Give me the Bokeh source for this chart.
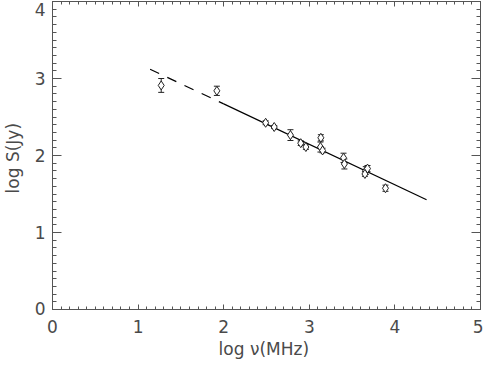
from bokeh.plotting import figure
from bokeh.models import (ColumnDataSource, Whisker, TeeHead, LinearAxis,
                          SingleIntervalTicker, Range1d)
from bokeh.embed import file_html
from bokeh.resources import INLINE

# ---- data ----
log_freq = [1.27, 1.92, 2.49, 2.59, 2.78, 2.90, 2.96, 3.135, 3.13, 3.155,
            3.40, 3.41, 3.66, 3.65, 3.68, 3.89]
log_flux = [2.91, 2.84, 2.425, 2.37, 2.265, 2.16, 2.11, 2.23, 2.11, 2.065,
            1.97, 1.89, 1.805, 1.76, 1.83, 1.575]
log_err = [0.09, 0.06, 0.025, 0.02, 0.07, 0.03, 0.03, 0.04, 0.065, 0.03,
           0.06, 0.065, 0.05, 0.03, 0.04, 0.04]

fit_dash_x = [1.14, 2.0]
fit_dash_y = [3.12, 2.67]
fit_solid_x = [2.0, 4.37]
fit_solid_y = [2.67, 1.425]

x_range = (0, 5)
y_range = (0, 4)
# edge labels nudged inward (blank lines), as the reference keeps them inside
y_label_overrides = {4: "\n4", 0: "0\n\n"}

FONT = "DejaVu Sans"
AX_COL = "#555555"
TXT_COL = "#4a4a4a"
FS = "17px"

src = ColumnDataSource(dict(
    x=log_freq, y=log_flux,
    upper=[f + e for f, e in zip(log_flux, log_err)],
    lower=[f - e for f, e in zip(log_flux, log_err)],
))

p = figure(width=484, height=368, output_backend="svg", toolbar_location=None,
           x_range=Range1d(*x_range), y_range=Range1d(*y_range),
           x_axis_location=None, y_axis_location=None,
           min_border_left=53, min_border_right=3, min_border_top=2,
           min_border_bottom=58)
p.margin = (-1, 0, 0, -1)
p.grid.visible = False
p.outline_line_color = None
p.background_fill_color = "white"


def make_axis(side, labeled):
    ax = LinearAxis(ticker=SingleIntervalTicker(interval=1, num_minor_ticks=10))
    horiz = side in ("below", "above")
    ax.axis_line_color = AX_COL
    ax.major_tick_line_color = AX_COL
    ax.minor_tick_line_color = AX_COL
    ax.major_tick_out = 0
    ax.minor_tick_out = 0
    ax.major_tick_in = 5 if horiz else 9
    ax.minor_tick_in = 3 if horiz else 4
    if labeled:
        ax.major_label_text_font = FONT
        ax.major_label_text_font_size = FS
        ax.major_label_text_color = TXT_COL
        ax.axis_label_text_font = FONT
        ax.axis_label_text_font_size = FS
        ax.axis_label_text_color = TXT_COL
        ax.axis_label_text_font_style = "normal"
        if horiz:
            ax.major_label_standoff = 10
            ax.axis_label_standoff = 3
            ax.axis_label = "log  \u03bd(MHz)"
        else:
            ax.major_label_standoff = 7
            ax.axis_label_standoff = 9
            ax.axis_label = "log  S(Jy)"
            ax.major_label_text_line_height = 0.01
            ax.major_label_overrides = y_label_overrides
    else:
        ax.major_label_text_font_size = "1px"
        ax.major_label_text_color = None
        ax.major_label_standoff = 0
        ax.major_label_overrides = {i: "" for i in range(6)}
    p.add_layout(ax, side)


make_axis("below", True)
make_axis("left", True)
make_axis("above", False)
make_axis("right", False)

p.line(fit_dash_x, fit_dash_y, line_color="black", line_width=1.2,
       line_dash="10 9")
p.line(fit_solid_x, fit_solid_y, line_color="black", line_width=1.2)

p.add_layout(Whisker(base="x", upper="upper", lower="lower", source=src,
                     line_color="#222222", line_width=1,
                     upper_head=TeeHead(size=6, line_color="#222222", line_width=1),
                     lower_head=TeeHead(size=6, line_color="#222222", line_width=1)))
p.scatter("x", "y", source=src, marker="diamond", size=9,
          fill_color="white", line_color="#222222", line_width=1)

open("out.html", "w").write(file_html(p, INLINE))
